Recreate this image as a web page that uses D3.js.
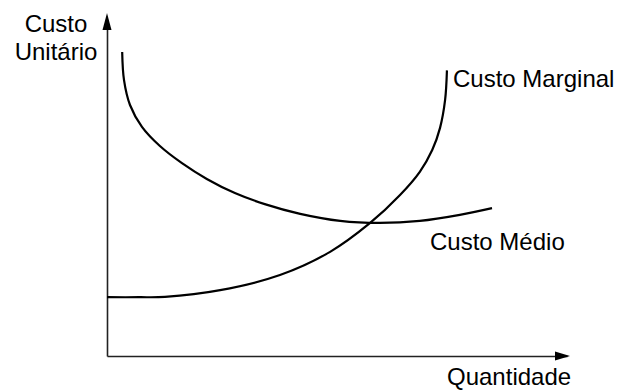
<!DOCTYPE html>
<html>
<head>
<meta charset="utf-8">
<script src="https://cdn.jsdelivr.net/npm/d3@7"></script>
<style>
  body { margin: 0; background: #fff; }
  text { font-family: "Liberation Sans", Arial, sans-serif; font-size: 24px; fill: #000; }
</style>
</head>
<body>
<div id="chart"></div>
<script>
// quantity (0-100) and unit cost (0-100)
const marginalQty = [0, 7, 12.6, 24.6, 37.6, 48.5, 57.2, 63.7, 68, 70.7, 72.4, 73.5, 73.9];
const marginalCost = [17.5, 17.5, 17.6, 19.6, 24.1, 31, 39.6, 47.9, 54.8, 61.3, 67.9, 76.2, 85];

const averageQty = [3.3, 3.7, 5, 7.6, 11.5, 16.3, 21.7, 27.8, 34.3, 42, 50.7, 59.3, 68, 76.7, 83.7];
const averageCost = [90.5, 82.1, 74.7, 68.2, 62.5, 57.4, 52.7, 48.5, 45.2, 42.3, 40.2, 39.6, 40.2, 42, 44];

const yLabelLines = ["Custo", "Unitário"];
const xLabel = "Quantidade";
const marginalLabel = "Custo Marginal";
const averageLabel = "Custo Médio";

const width = 620;
const height = 390;
const margin = { top: 20, right: 53, bottom: 34, left: 107 };

const svg = d3
  .select("#chart")
  .append("svg")
  .attr("width", width)
  .attr("height", height);

const x = d3
  .scaleLinear()
  .domain([0, 100])
  .range([margin.left, width - margin.right]);
const y = d3
  .scaleLinear()
  .domain([0, 100])
  .range([height - margin.bottom, margin.top]);

// axes (no ticks), arrow heads at the ends
svg
  .append("g")
  .attr("transform", `translate(0,${y(0)})`)
  .call(d3.axisBottom(x).ticks(0).tickSizeOuter(0))
  .select(".domain")
  .attr("stroke", "#222")
  .attr("stroke-width", 1.6);
svg
  .append("g")
  .attr("transform", `translate(${x(0)},0)`)
  .call(d3.axisLeft(y).ticks(0).tickSizeOuter(0))
  .select(".domain")
  .attr("stroke", "#222")
  .attr("stroke-width", 1.6);

const xEnd = x(100);
const yEnd = y(100);
svg
  .append("path")
  .attr("d", `M${xEnd - 12},${y(0) - 4.5}L${xEnd + 3},${y(0)}L${xEnd - 12},${y(0) + 4.5}Z`)
  .attr("fill", "#000");
svg
  .append("path")
  .attr("d", `M${x(0) - 4.5},${yEnd + 10}L${x(0)},${yEnd - 7}L${x(0) + 4.5},${yEnd + 10}Z`)
  .attr("fill", "#000");

const line = d3
  .line()
  .x((d) => x(d[0]))
  .y((d) => y(d[1]))
  .curve(d3.curveCatmullRom.alpha(0.5));

svg
  .append("path")
  .datum(d3.zip(marginalQty, marginalCost))
  .attr("d", line)
  .attr("fill", "none")
  .attr("stroke", "#000")
  .attr("stroke-width", 2.2);

svg
  .append("path")
  .datum(d3.zip(averageQty, averageCost))
  .attr("d", line)
  .attr("fill", "none")
  .attr("stroke", "#000")
  .attr("stroke-width", 2.2);

// labels
svg
  .append("text")
  .attr("text-anchor", "middle")
  .selectAll("tspan")
  .data(yLabelLines)
  .join("tspan")
  .attr("x", 56)
  .attr("y", (d, i) => 32 + i * 28)
  .text((d) => d);

svg.append("text").attr("x", 447).attr("y", 385).text(xLabel);
svg.append("text").attr("x", 453).attr("y", 87).text(marginalLabel);
svg.append("text").attr("x", 430).attr("y", 250).text(averageLabel);
</script>
</body>
</html>
